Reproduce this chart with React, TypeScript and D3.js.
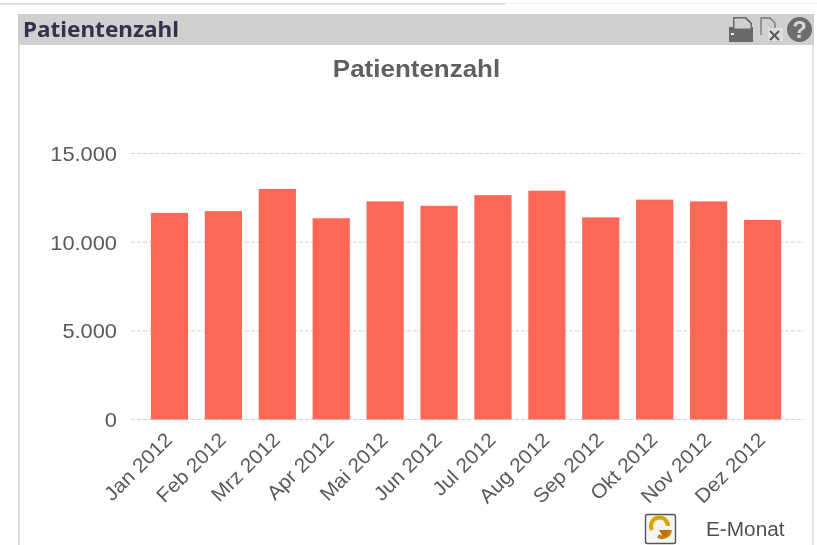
import React from "react";
import * as d3 from "d3";

const months = ["Jan 2012","Feb 2012","Mrz 2012","Apr 2012","Mai 2012","Jun 2012","Jul 2012","Aug 2012","Sep 2012","Okt 2012","Nov 2012","Dez 2012"];
const patients = [11650,11750,13000,11350,12300,12050,12650,12900,11400,12400,12300,11250];
const yTicks = [0,5000,10000,15000];
const tickLabels = ["0","5.000","10.000","15.000"];

const FONT = "'Liberation Sans', Arial, sans-serif";

export default function App() {
  const x = d3.scaleBand<string>().domain(months).range([142.5, 789.5]).paddingInner(0.31).paddingOuter(0.155);
  const y = d3.scaleLinear().domain([0, 15000]).range([419.5, 153.5]);
  return (
    <svg width={817} height={545} style={{ position: "absolute", left: 0, top: 0, background: "#fff" }}>
      <defs>
        <filter id="soft" x="-5%" y="-5%" width="110%" height="110%"><feGaussianBlur stdDeviation="0.4" /></filter>
      </defs>
      <rect x={0} y={3} width={505} height={1.5} fill="#d8d8d8" />
      <rect x={505} y={3} width={312} height={1} fill="#f2f2f2" />
      <rect x={18} y={14} width={2} height={531} fill="#dcdcdc" />
      <rect x={812} y={14} width={2} height={531} fill="#e4e4e4" />
      <rect x={18} y={14} width={796} height={31} fill="#d0d0d0" />
      <text x={23} y={37} fontFamily="'Noto Sans', sans-serif" fontWeight={700} fontSize={20.5} fill="#33334d" textLength={156} lengthAdjust="spacingAndGlyphs" filter="url(#soft)">Patientenzahl</text>

      <g filter="url(#soft)">
        <path d="M729 42 V27 H733 V17 H746 L752 23 V27 H753 V42 Z" fill="#6a6a6a" />
        <path d="M734 18 H745 L751 24 V29 H734 Z" fill="#d0d0d0" stroke="#6a6a6a" strokeWidth={1} />
        <rect x={731} y={33} width={3} height={2} fill="#eee" />
        <path d="M761 35 V18 H770 L775 23 V30" fill="none" stroke="#777" strokeWidth={1.3} />
        <rect x={768} y={28} width={15} height={13} fill="#dddddd" />
        <path d="M770 31 L779 40 M779 31 L770 40" stroke="#555" strokeWidth={2} />
        <circle cx={799.5} cy={29.5} r={12.5} fill="#6c6c6c" />
        <text x={799.5} y={38} textAnchor="middle" fontFamily={FONT} fontWeight={700} fontSize={24} fill="#d8d8d8">?</text>
      </g>

      <g filter="url(#soft)">
        <text transform="translate(416.5,77) scale(1.06,1)" textAnchor="middle" fontFamily={FONT} fontWeight={700} fontSize={24.5} fill="#5f5f5f">Patientenzahl</text>
      </g>

      {yTicks.map((t) => (
        <line key={t} x1={131} x2={804} y1={y(t)} y2={y(t)} stroke="#d4d4d4" strokeWidth={1} strokeDasharray="4 2" />
      ))}
      <g filter="url(#soft)">
        {yTicks.map((t, i) => (
          <text key={t} transform={`translate(117,${y(t) + 7.5}) scale(1.04,1)`} textAnchor="end" fontFamily={FONT} fontSize={21} fill="#5a5a5a">{tickLabels[i]}</text>
        ))}
      </g>

      {months.map((m, i) => (
        <rect key={m} x={x(m)} y={y(patients[i])} width={x.bandwidth()} height={y(0) - y(patients[i])} fill="#ff6757" />
      ))}

      <g filter="url(#soft)">
        {months.map((m) => {
          const cx = x(m)! + x.bandwidth() / 2 - 1;
          return (
            <text key={m} transform={`translate(${cx},${436}) rotate(-45) scale(1.05,1)`} textAnchor="end" fontFamily={FONT} fontSize={20} fill="#5a5a5a" dy="0.35em">{m}</text>
          );
        })}
      </g>

      <g filter="url(#soft)">
        <rect x={645.5} y={514.5} width={30} height={29} rx={2} fill="#f4f4f4" stroke="#555" strokeWidth={1.4} />
        <path d="M652 530 A8.5 8.5 0 1 1 668 526" fill="none" stroke="#d9a400" strokeWidth={4} />
        <path d="M670 530 A8 8 0 0 1 658 536" fill="none" stroke="#c77f10" strokeWidth={4} />
        <path d="M659 530 L669 530 L664 538 Z" fill="#b8700f" />
        <text transform="translate(706,536) scale(1.04,1)" fontFamily={FONT} fontSize={20} fill="#505050">E-Monat</text>
      </g>
    </svg>
  );
}
